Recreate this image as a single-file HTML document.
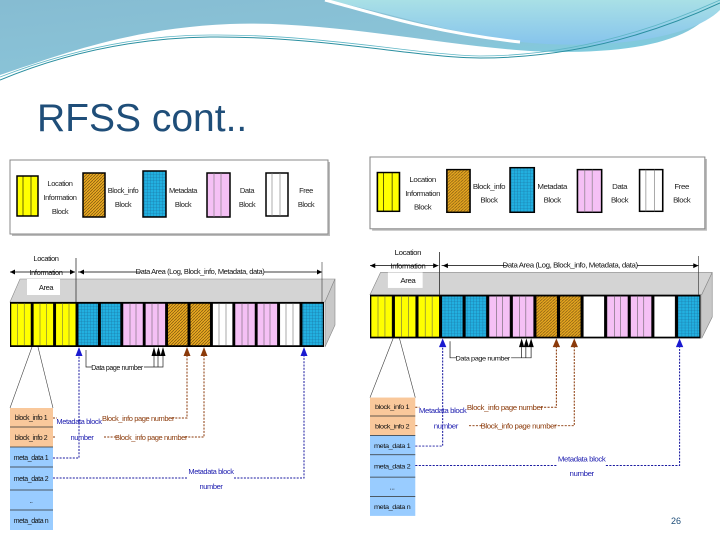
<!DOCTYPE html>
<html><head><meta charset="utf-8"><style>
html,body{margin:0;padding:0;background:#fff}
svg{display:block}
text{font-family:"Liberation Sans Narrow","Liberation Sans",sans-serif;letter-spacing:-0.4px}
.t{font-family:"Liberation Sans",sans-serif;letter-spacing:0}
</style></head><body>
<svg width="720" height="540" viewBox="0 0 720 540" xmlns="http://www.w3.org/2000/svg">
<defs>
<linearGradient id="hd" x1="0" y1="0" x2="1" y2="1">
<stop offset="0" stop-color="#86bcd2"/><stop offset="0.6" stop-color="#8ac4d8"/><stop offset="1" stop-color="#6fd6e6"/></linearGradient>
<linearGradient id="hd2" x1="0" y1="0" x2="0" y2="1">
<stop offset="0" stop-color="#a9e0e6"/><stop offset="1" stop-color="#86c4ec"/></linearGradient>
<pattern id="pb" width="3" height="3" patternUnits="userSpaceOnUse"><rect width="3" height="3" fill="#22b0e0"/><path d="M0 0H3M0 0V3" stroke="#1a6c9a" stroke-width="0.6"/></pattern>
<pattern id="po" width="3" height="3" patternUnits="userSpaceOnUse"><rect width="3" height="3" fill="#e8a820"/><path d="M0 3L3 0" stroke="#7a5410" stroke-width="0.7"/></pattern>
</defs>
<path d="M0 0H720V0C700 40 640 52 560 52C470 52 340 20 230 24C130 28 60 55 0 75Z" fill="url(#hd)"/>
<path d="M325 0H720V10C690 40 600 50 520 42C450 34 380 10 325 0Z" fill="url(#hd2)"/>
<path d="M325 0C370 12 430 32 520 42" stroke="#fff" stroke-width="3" fill="none"/>
<path d="M0 80C60 55 130 38 210 37C320 36 420 58 480 58C560 58 640 40 720 3" stroke="#2a8fa0" stroke-width="1" fill="none"/>
<path d="M0 77C70 50 140 35 210 35C320 34 420 55 480 56C560 56 640 36 720 0" stroke="#5fb6c6" stroke-width="0.8" fill="none"/>
<text class="t" x="37" y="131" font-size="39" fill="#1f4e79">RFSS cont..</text>
<text class="t" x="671" y="524" font-size="9" fill="#1f4e79">26</text>

<g>
<rect x="12" y="162" width="318" height="74" fill="#bbb"/>
<rect x="10" y="160" width="318" height="74" fill="#fff" stroke="#888"/>
<rect x="17" y="176" width="21" height="40" fill="#ffff00" stroke="#000" stroke-width="1.5"/><path d="M23 176V216M31 176V216" stroke="#000" stroke-width="0.6"/>
<text font-size="7.5" text-anchor="middle" fill="#222"><tspan x="60" y="186">Location</tspan><tspan x="60" y="200">Information</tspan><tspan x="60" y="214">Block</tspan></text>
<rect x="83" y="173" width="22" height="44" fill="url(#po)" stroke="#000" stroke-width="1.5"/>
<text font-size="7.5" text-anchor="middle" fill="#222"><tspan x="123" y="193">Block_info</tspan><tspan x="123" y="207">Block</tspan></text>
<rect x="143" y="171" width="23" height="46" fill="url(#pb)" stroke="#000" stroke-width="1.5"/>
<text font-size="7.5" text-anchor="middle" fill="#222"><tspan x="183" y="193">Metadata</tspan><tspan x="183" y="207">Block</tspan></text>
<rect x="207" y="173" width="23" height="44" fill="#f5c0f5" stroke="#000" stroke-width="1.5"/><path d="M214 173V217M221 173V217" stroke="#777" stroke-width="0.6"/>
<text font-size="7.5" text-anchor="middle" fill="#222"><tspan x="247" y="193">Data</tspan><tspan x="247" y="207">Block</tspan></text>
<rect x="266" y="173" width="22" height="43" fill="#fff" stroke="#000" stroke-width="1.5"/><path d="M272 173V216M280 173V216" stroke="#777" stroke-width="0.6"/>
<text font-size="7.5" text-anchor="middle" fill="#222"><tspan x="306" y="193">Free</tspan><tspan x="306" y="207">Block</tspan></text>

<polygon points="10,302 20,279 335,279 325,302" fill="#d4d4d4" stroke="#888" stroke-width="0.6"/>
<polygon points="325,302 335,279 335,325 325,347" fill="#c8c8c8" stroke="#888" stroke-width="0.6"/>
<path d="M76 258V302" stroke="#333" stroke-width="0.8"/>
<path d="M10 272H75M78 272H322" stroke="#000" stroke-width="0.8"/>
<path d="M10 272l5 -2.5v5zM75 272l-5 -2.5v5zM79 272l5 -2.5v5zM322 272l-5 -2.5v5z"/>
<path d="M322 262V302" stroke="#333" stroke-width="0.6"/>
<rect x="27" y="279" width="33" height="16" fill="#fff"/>
<text font-size="7.5" text-anchor="middle" fill="#111"><tspan x="46" y="261">Location</tspan><tspan x="46" y="275">Information</tspan><tspan x="46" y="290">Area</tspan></text>
<rect x="140" y="266" width="124" height="10" fill="#fff"/>
<text x="200" y="274" font-size="7.5" text-anchor="middle" fill="#111">Data Area (Log, Block_info, Metadata, data)</text>

<rect x="10" y="302" width="314" height="45" fill="#000"/>
<g stroke="#000" stroke-width="0.5">
<rect x="11" y="303.5" width="20" height="42" fill="#ffff00"/><rect x="33.4" y="303.5" width="20" height="42" fill="#ffff00"/><rect x="55.8" y="303.5" width="20" height="42" fill="#ffff00"/>
<rect x="78.2" y="303.5" width="20" height="42" fill="url(#pb)"/><rect x="100.6" y="303.5" width="20" height="42" fill="url(#pb)"/>
<rect x="123" y="303.5" width="20" height="42" fill="#f5c0f5"/><rect x="145.4" y="303.5" width="20" height="42" fill="#f5c0f5"/>
<rect x="167.8" y="303.5" width="20" height="42" fill="url(#po)"/><rect x="190.2" y="303.5" width="20" height="42" fill="url(#po)"/>
<rect x="212.6" y="303.5" width="20" height="42" fill="#fff"/>
<rect x="235" y="303.5" width="20" height="42" fill="#f5c0f5"/><rect x="257.4" y="303.5" width="20" height="42" fill="#f5c0f5"/>
<rect x="279.8" y="303.5" width="20" height="42" fill="#fff"/>
<rect x="302.2" y="303.5" width="20.8" height="42" fill="url(#pb)"/>
</g>
<path d="M17.6 303V345M24.2 303V345M40 303V345M46.6 303V345M62.4 303V345M69 303V345M130 303V345M136 303V345M152 303V345M158 303V345M242 303V345M248 303V345M264 303V345M270 303V345M219 303V345M226 303V345M286 303V345M293 303V345" stroke="#555" stroke-width="0.5"/>

<path d="M32 347L10 408M38 347L53 408" stroke="#444" stroke-width="0.6"/>
<rect x="10" y="408" width="43" height="39" fill="#f9c89b"/>
<rect x="10" y="447" width="43" height="83" fill="#99ccff"/>
<path d="M10 427H53M10 447H53M10 467H53M10 490H53M10 510H53" stroke="#333" stroke-width="0.8"/>
<text font-size="7" text-anchor="middle" fill="#111"><tspan x="31" y="420">block_info 1</tspan><tspan x="31" y="440">block_info 2</tspan><tspan x="31" y="460">meta_data 1</tspan><tspan x="31" y="481">meta_data 2</tspan><tspan x="31" y="503">..</tspan><tspan x="31" y="523">meta_data n</tspan></text>

<g fill="none" stroke-width="1" stroke-dasharray="2,1.3">
<path d="M53 458H79V356" stroke="#1a1aa0"/>
<path d="M53 478H188M234 478H304V356" stroke="#1a1aa0"/>
<path d="M53 418H57M172 418H187V356" stroke="#8b3a0a"/>
<path d="M53 437H55M104 437H118M185 437H204V356" stroke="#8b3a0a"/>
</g>
<path d="M79 347l-3.5 9h7zM304 347l-3.5 9h7z" fill="#1a1ad0"/>
<path d="M187 347l-3.5 9h7zM204 347l-3.5 9h7z" fill="#8b3a0a"/>
<path d="M86 350V367H92M144 367H163V356M154 356V367M158 356V367" stroke="#222" stroke-width="0.7" fill="none"/>
<path d="M154 347l-2.5 9h5zM158.5 347l-2.5 9h5zM163 347l-2.5 9h5z"/>
<text x="117" y="370" font-size="7" text-anchor="middle" fill="#111">Data page number</text>
<text font-size="7.5" text-anchor="middle" fill="#2020b0"><tspan x="79" y="424">Metadata block</tspan><tspan x="82" y="440">number</tspan><tspan x="211" y="474">Metadata block</tspan><tspan x="211" y="489">number</tspan></text>
<text font-size="7.5" text-anchor="middle" fill="#8b3a0a"><tspan x="138" y="421">Block_info page number</tspan><tspan x="151" y="440">Block_info page number</tspan></text>
</g>

<g transform="translate(359.47 1.8) scale(1.053 0.97)">
<rect x="12" y="162" width="318" height="74" fill="#bbb"/>
<rect x="10" y="160" width="318" height="74" fill="#fff" stroke="#888"/>
<rect x="17" y="176" width="21" height="40" fill="#ffff00" stroke="#000" stroke-width="1.5"/><path d="M23 176V216M31 176V216" stroke="#000" stroke-width="0.6"/>
<text font-size="7.5" text-anchor="middle" fill="#222"><tspan x="60" y="186">Location</tspan><tspan x="60" y="200">Information</tspan><tspan x="60" y="214">Block</tspan></text>
<rect x="83" y="173" width="22" height="44" fill="url(#po)" stroke="#000" stroke-width="1.5"/>
<text font-size="7.5" text-anchor="middle" fill="#222"><tspan x="123" y="193">Block_info</tspan><tspan x="123" y="207">Block</tspan></text>
<rect x="143" y="171" width="23" height="46" fill="url(#pb)" stroke="#000" stroke-width="1.5"/>
<text font-size="7.5" text-anchor="middle" fill="#222"><tspan x="183" y="193">Metadata</tspan><tspan x="183" y="207">Block</tspan></text>
<rect x="207" y="173" width="23" height="44" fill="#f5c0f5" stroke="#000" stroke-width="1.5"/><path d="M214 173V217M221 173V217" stroke="#777" stroke-width="0.6"/>
<text font-size="7.5" text-anchor="middle" fill="#222"><tspan x="247" y="193">Data</tspan><tspan x="247" y="207">Block</tspan></text>
<rect x="266" y="173" width="22" height="43" fill="#fff" stroke="#000" stroke-width="1.5"/><path d="M272 173V216M280 173V216" stroke="#777" stroke-width="0.6"/>
<text font-size="7.5" text-anchor="middle" fill="#222"><tspan x="306" y="193">Free</tspan><tspan x="306" y="207">Block</tspan></text>

<polygon points="10,302 20,279 335,279 325,302" fill="#d4d4d4" stroke="#888" stroke-width="0.6"/>
<polygon points="325,302 335,279 335,325 325,347" fill="#c8c8c8" stroke="#888" stroke-width="0.6"/>
<path d="M76 258V302" stroke="#333" stroke-width="0.8"/>
<path d="M10 272H75M78 272H322" stroke="#000" stroke-width="0.8"/>
<path d="M10 272l5 -2.5v5zM75 272l-5 -2.5v5zM79 272l5 -2.5v5zM322 272l-5 -2.5v5z"/>
<path d="M322 262V302" stroke="#333" stroke-width="0.6"/>
<rect x="27" y="279" width="33" height="16" fill="#fff"/>
<text font-size="7.5" text-anchor="middle" fill="#111"><tspan x="46" y="261">Location</tspan><tspan x="46" y="275">Information</tspan><tspan x="46" y="290">Area</tspan></text>
<rect x="140" y="266" width="124" height="10" fill="#fff"/>
<text x="200" y="274" font-size="7.5" text-anchor="middle" fill="#111">Data Area (Log, Block_info, Metadata, data)</text>

<rect x="10" y="302" width="314" height="45" fill="#000"/>
<g stroke="#000" stroke-width="0.5">
<rect x="11" y="303.5" width="20" height="42" fill="#ffff00"/><rect x="33.4" y="303.5" width="20" height="42" fill="#ffff00"/><rect x="55.8" y="303.5" width="20" height="42" fill="#ffff00"/>
<rect x="78.2" y="303.5" width="20" height="42" fill="url(#pb)"/><rect x="100.6" y="303.5" width="20" height="42" fill="url(#pb)"/>
<rect x="123" y="303.5" width="20" height="42" fill="#f5c0f5"/><rect x="145.4" y="303.5" width="20" height="42" fill="#f5c0f5"/>
<rect x="167.8" y="303.5" width="20" height="42" fill="url(#po)"/><rect x="190.2" y="303.5" width="20" height="42" fill="url(#po)"/>
<rect x="212.6" y="303.5" width="20" height="42" fill="#fff"/>
<rect x="235" y="303.5" width="20" height="42" fill="#f5c0f5"/><rect x="257.4" y="303.5" width="20" height="42" fill="#f5c0f5"/>
<rect x="279.8" y="303.5" width="20" height="42" fill="#fff"/>
<rect x="302.2" y="303.5" width="20.8" height="42" fill="url(#pb)"/>
</g>
<path d="M17.6 303V345M24.2 303V345M40 303V345M46.6 303V345M62.4 303V345M69 303V345M130 303V345M136 303V345M152 303V345M158 303V345M242 303V345M248 303V345M264 303V345M270 303V345" stroke="#555" stroke-width="0.5"/>

<path d="M32 347L10 408M38 347L53 408" stroke="#444" stroke-width="0.6"/>
<rect x="10" y="408" width="43" height="39" fill="#f9c89b"/>
<rect x="10" y="447" width="43" height="83" fill="#99ccff"/>
<path d="M10 427H53M10 447H53M10 467H53M10 490H53M10 510H53" stroke="#333" stroke-width="0.8"/>
<text font-size="7" text-anchor="middle" fill="#111"><tspan x="31" y="420">block_info 1</tspan><tspan x="31" y="440">block_info 2</tspan><tspan x="31" y="460">meta_data 1</tspan><tspan x="31" y="481">meta_data 2</tspan><tspan x="31" y="503">...</tspan><tspan x="31" y="523">meta_data n</tspan></text>

<g fill="none" stroke-width="1" stroke-dasharray="2,1.3">
<path d="M53 458H79V356" stroke="#1a1aa0"/>
<path d="M53 478H188M234 478H304V356" stroke="#1a1aa0"/>
<path d="M53 418H57M172 418H187V356" stroke="#8b3a0a"/>
<path d="M53 437H55M104 437H118M185 437H204V356" stroke="#8b3a0a"/>
</g>
<path d="M79 347l-3.5 9h7zM304 347l-3.5 9h7z" fill="#1a1ad0"/>
<path d="M187 347l-3.5 9h7zM204 347l-3.5 9h7z" fill="#8b3a0a"/>
<path d="M86 350V367H92M144 367H163V356M154 356V367M158 356V367" stroke="#222" stroke-width="0.7" fill="none"/>
<path d="M154 347l-2.5 9h5zM158.5 347l-2.5 9h5zM163 347l-2.5 9h5z"/>
<text x="117" y="370" font-size="7" text-anchor="middle" fill="#111">Data page number</text>
<text font-size="7.5" text-anchor="middle" fill="#2020b0"><tspan x="79" y="424">Metadata block</tspan><tspan x="82" y="440">number</tspan><tspan x="211" y="474">Metadata block</tspan><tspan x="211" y="489">number</tspan></text>
<text font-size="7.5" text-anchor="middle" fill="#8b3a0a"><tspan x="138" y="421">Block_info page number</tspan><tspan x="151" y="440">Block_info page number</tspan></text>
</g>
</svg>
</body></html>
